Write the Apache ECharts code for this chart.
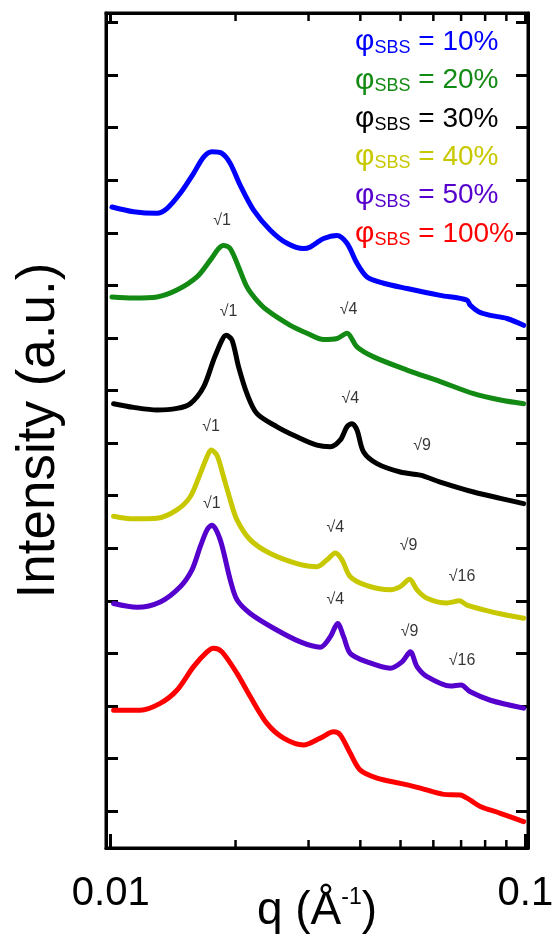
<!DOCTYPE html>
<html><head><meta charset="utf-8">
<script src="https://cdn.jsdelivr.net/npm/echarts@6/dist/echarts.min.js"></script>
<style>html,body{margin:0;padding:0;background:#fff}#c{width:555px;height:941px}</style>
</head><body><div id="c"></div>
<script>
// ---- data (q in 1/Å, intensity in a.u., curves offset vertically) ----
const seriesLabels = ['10%', '20%', '30%', '40%', '50%', '100%'];
const seriesColors = ['#0000ff', '#138a13', '#000000', '#c8c800', '#5500cc', '#ff0000'];

const qBlue = [0.01007,0.01135,0.01293,0.01366,0.01471,0.01584,0.01675,0.01754,0.01855,0.01942,0.02053,0.02211,0.02426,0.02662,0.02918,0.03029,0.03262,0.03514,0.03714,0.03926,0.04151,0.04551,0.05184,0.06235,0.07233,0.07367,0.07714,0.08234,0.09032,0.09906];
const iBlue = [11.49,11.40,11.37,11.46,11.75,12.13,12.44,12.54,12.51,12.32,11.90,11.43,11.05,10.80,10.70,10.73,10.89,10.95,10.80,10.42,10.16,10.04,9.94,9.81,9.72,9.62,9.50,9.43,9.37,9.24];

const qGreen = [0.01007,0.01135,0.01293,0.01444,0.01614,0.01738,0.01820,0.01871,0.01942,0.02034,0.02131,0.02232,0.02381,0.02710,0.02974,0.03262,0.03514,0.03714,0.03926,0.04305,0.05184,0.06235,0.07504,0.08704,0.09906];
const iGreen = [9.78,9.76,9.78,9.91,10.16,10.48,10.70,10.76,10.70,10.35,9.97,9.75,9.53,9.24,9.09,8.97,8.99,9.09,8.83,8.64,8.39,8.17,7.94,7.82,7.75];

const qBlack = [0.01016,0.01135,0.01293,0.01444,0.01555,0.01675,0.01770,0.01855,0.01899,0.01961,0.02034,0.02131,0.02253,0.02518,0.02813,0.03144,0.03386,0.03579,0.03714,0.03819,0.03926,0.04073,0.04387,0.04994,0.05581,0.06235,0.07504,0.08704,0.09906];
const iBlack = [7.75,7.68,7.63,7.66,7.75,8.07,8.58,8.96,9.05,8.96,8.45,7.94,7.56,7.31,7.12,6.96,6.93,7.06,7.31,7.37,7.25,6.83,6.61,6.45,6.39,6.26,6.07,5.95,5.85];

const qYellow = [0.01016,0.01135,0.01293,0.01444,0.01555,0.01644,0.01707,0.01745,0.01804,0.01871,0.01942,0.02016,0.02170,0.02426,0.02813,0.03144,0.03324,0.03481,0.03613,0.03783,0.04151,0.04724,0.04994,0.05258,0.05479,0.05792,0.06473,0.06942,0.07233,0.07933,0.08863,0.09906];
const iYellow = [5.61,5.56,5.57,5.73,5.98,6.42,6.74,6.87,6.77,6.36,5.92,5.54,5.16,4.90,4.71,4.65,4.78,4.91,4.78,4.46,4.29,4.21,4.27,4.41,4.21,4.05,3.96,4.00,3.92,3.83,3.74,3.67];

const qPurple = [0.01016,0.01157,0.01316,0.01471,0.01570,0.01644,0.01707,0.01754,0.01837,0.01942,0.02016,0.02170,0.02471,0.02866,0.03202,0.03386,0.03526,0.03645,0.03783,0.04151,0.04724,0.05041,0.05279,0.05479,0.05792,0.06593,0.06997,0.07367,0.08234,0.09906];
const iPurple = [3.95,3.88,3.98,4.27,4.59,5.03,5.35,5.44,5.16,4.40,4.02,3.76,3.48,3.22,3.12,3.32,3.57,3.32,3.00,2.84,2.72,2.84,3.03,2.75,2.56,2.38,2.40,2.27,2.11,1.96];

const qRed = [0.01016,0.01178,0.01316,0.01444,0.01584,0.01707,0.01770,0.01855,0.02016,0.02170,0.02381,0.02612,0.02918,0.03202,0.03448,0.03579,0.03783,0.03999,0.04387,0.04994,0.05581,0.06351,0.06970,0.07367,0.07787,0.08704,0.09906];
const iRed = [1.92,1.92,2.05,2.30,2.75,3.03,3.10,3.03,2.62,2.18,1.67,1.39,1.26,1.39,1.51,1.45,1.10,0.78,0.63,0.53,0.44,0.32,0.31,0.21,0.09,-0.04,-0.20];

// peak index annotations
const annQ = [0.01855,0.01924,0.03748,0.03783,0.05634,0.01745,0.01754,0.03481,0.05229,0.07036,0.03481,0.05258,0.07036];
const annI = [11.24,9.50,9.53,7.85,6.96,7.32,5.85,5.40,5.06,4.46,4.03,3.41,2.87];
const annText = ['√1','√1','√4','√4','√9','√1','√1','√4','√9','√16','√4','√9','√16'];

// axis ticks
const xMajorTicks = [0.01, 0.1];
const xTickLabels = ['0.01', '0.1'];
const xMinorTicks = [0.02,0.03,0.04,0.05,0.06,0.07,0.08,0.09];

// ---- chart ----
const FONT = '"Liberation Sans", Arial, Helvetica, sans-serif';
const Y_MIN = -0.7, Y_MAX = 15.18, X_MIN = 0.00974, X_MAX = 0.1015;

const qs = [qBlue, qGreen, qBlack, qYellow, qPurple, qRed];
const is = [iBlue, iGreen, iBlack, iYellow, iPurple, iRed];
const names = seriesLabels.map(l => 'φSBS = ' + l);

const lineSeries = names.map((n, k) => ({
  name: n, type: 'line', xAxisIndex: 0, yAxisIndex: 0,
  data: qs[k].map((q, j) => [q, is[k][j]]),
  showSymbol: false, symbol: 'none', smooth: 0.3,
  lineStyle: { color: seriesColors[k], width: 5, cap: 'round', join: 'round' },
  itemStyle: { color: seriesColors[k] },
  z: 3
}));

const rich = {};
seriesColors.forEach((c, k) => {
  rich['p' + k] = { color: c, fontSize: 30, lineHeight: 30, fontFamily: FONT };
  rich['s' + k] = { color: c, fontSize: 18, lineHeight: 10, verticalAlign: 'bottom', fontFamily: FONT };
  rich['t' + k] = { color: c, fontSize: 28, lineHeight: 30, fontFamily: FONT };
});

const axisLine = { show: true, onZero: false, lineStyle: { color: '#000', width: 3 } };

const option = {
  animation: false,
  backgroundColor: '#fff',
  grid: { left: 106, right: 27, top: 13, bottom: 93, containLabel: false, outerBoundsMode: 'none',
          show: true, borderColor: '#000', borderWidth: 3, backgroundColor: 'transparent' },
  legend: {
    orient: 'vertical', left: 350, top: 27, padding: 0, itemGap: 8.4,
    itemWidth: 0, itemHeight: 0, icon: 'rect', selectedMode: false,
    data: names,
    formatter: function (name) {
      const k = names.indexOf(name);
      return '{p' + k + '|φ}{s' + k + '|SBS}{t' + k + '| = ' + seriesLabels[k] + '}';
    },
    textStyle: { fontFamily: FONT, rich: rich }
  },
  xAxis: [
    {
      type: 'log', logBase: 10, position: 'bottom', min: X_MIN, max: X_MAX,
      name: '{a|q (Å}{b|-1}{a|)}', nameLocation: 'middle', nameGap: 38, nameMoveOverlap: false,
      nameTextStyle: { rich: {
        a: { fontSize: 46, lineHeight: 50, color: '#000', fontFamily: FONT },
        b: { fontSize: 23, lineHeight: 24, verticalAlign: 'top', color: '#000', fontFamily: FONT }
      } },
      axisLine: axisLine,
      axisTick: { show: true, inside: true, length: 14, lineStyle: { color: '#000', width: 3 } },
      axisLabel: {
        show: true, margin: 26, fontSize: 40, color: '#000', fontFamily: FONT,
        showMinLabel: false, showMaxLabel: false,
        formatter: function (v) {
          for (let k = 0; k < xMajorTicks.length; k++) {
            if (Math.abs(v - xMajorTicks[k]) < xMajorTicks[k] * 1e-6) return xTickLabels[k];
          }
          return '';
        }
      },
      splitLine: { show: false }
    },
    {
      type: 'log', logBase: 10, position: 'top', min: X_MIN, max: X_MAX,
      axisLine: axisLine,
      axisTick: { show: true, inside: true, length: 10, lineStyle: { color: '#000', width: 3 } },
      axisLabel: { show: false },
      splitLine: { show: false }
    }
  ],
  yAxis: [
    {
      type: 'value', position: 'left', min: Y_MIN, max: Y_MAX,
      splitNumber: 16, minInterval: 1, maxInterval: 1,
      name: 'Intensity (a.u.)', nameLocation: 'middle', nameGap: 40, nameMoveOverlap: false,
      nameTextStyle: { fontSize: 53, color: '#000', fontFamily: FONT },
      axisLine: axisLine,
      axisTick: { show: true, inside: true, length: 12, lineStyle: { color: '#000', width: 3 } },
      axisLabel: { show: false },
      splitLine: { show: false }
    },
    {
      type: 'value', position: 'right', min: Y_MIN, max: Y_MAX,
      splitNumber: 16, minInterval: 1, maxInterval: 1,
      axisLine: axisLine,
      axisTick: { show: true, inside: true, length: 12, lineStyle: { color: '#000', width: 3 } },
      axisLabel: { show: false },
      splitLine: { show: false }
    }
  ],
  series: lineSeries.concat([
    {
      name: 'peaks', type: 'scatter', xAxisIndex: 0, yAxisIndex: 0,
      symbol: 'circle', symbolSize: 0.1, silent: true,
      itemStyle: { color: 'rgba(0,0,0,0)' },
      data: annQ.map((q, j) => ({ value: [q, annI[j]], name: annText[j] })),
      label: { show: true, position: 'inside', formatter: '{b}', fontSize: 16, color: '#000', fontFamily: FONT },
      z: 4
    },
    {
      name: 'minorTicks', type: 'custom', xAxisIndex: 0, yAxisIndex: 0, silent: true, clip: false,
      data: xMinorTicks.map(v => [v, Y_MIN]),
      renderItem: function (params, api) {
        const q = api.value(0);
        const pb = api.coord([q, Y_MIN]);
        const pt = api.coord([q, Y_MAX]);
        const st = { stroke: '#000', lineWidth: 2.5 };
        return { type: 'group', children: [
          { type: 'line', shape: { x1: pb[0], y1: pb[1], x2: pb[0], y2: pb[1] - 8 }, style: st },
          { type: 'line', shape: { x1: pt[0], y1: pt[1], x2: pt[0], y2: pt[1] + 8 }, style: st }
        ] };
      },
      z: 5
    }
  ])
};

const chart = echarts.init(document.getElementById('c'));
chart.setOption(option);
</script>
</body></html>
